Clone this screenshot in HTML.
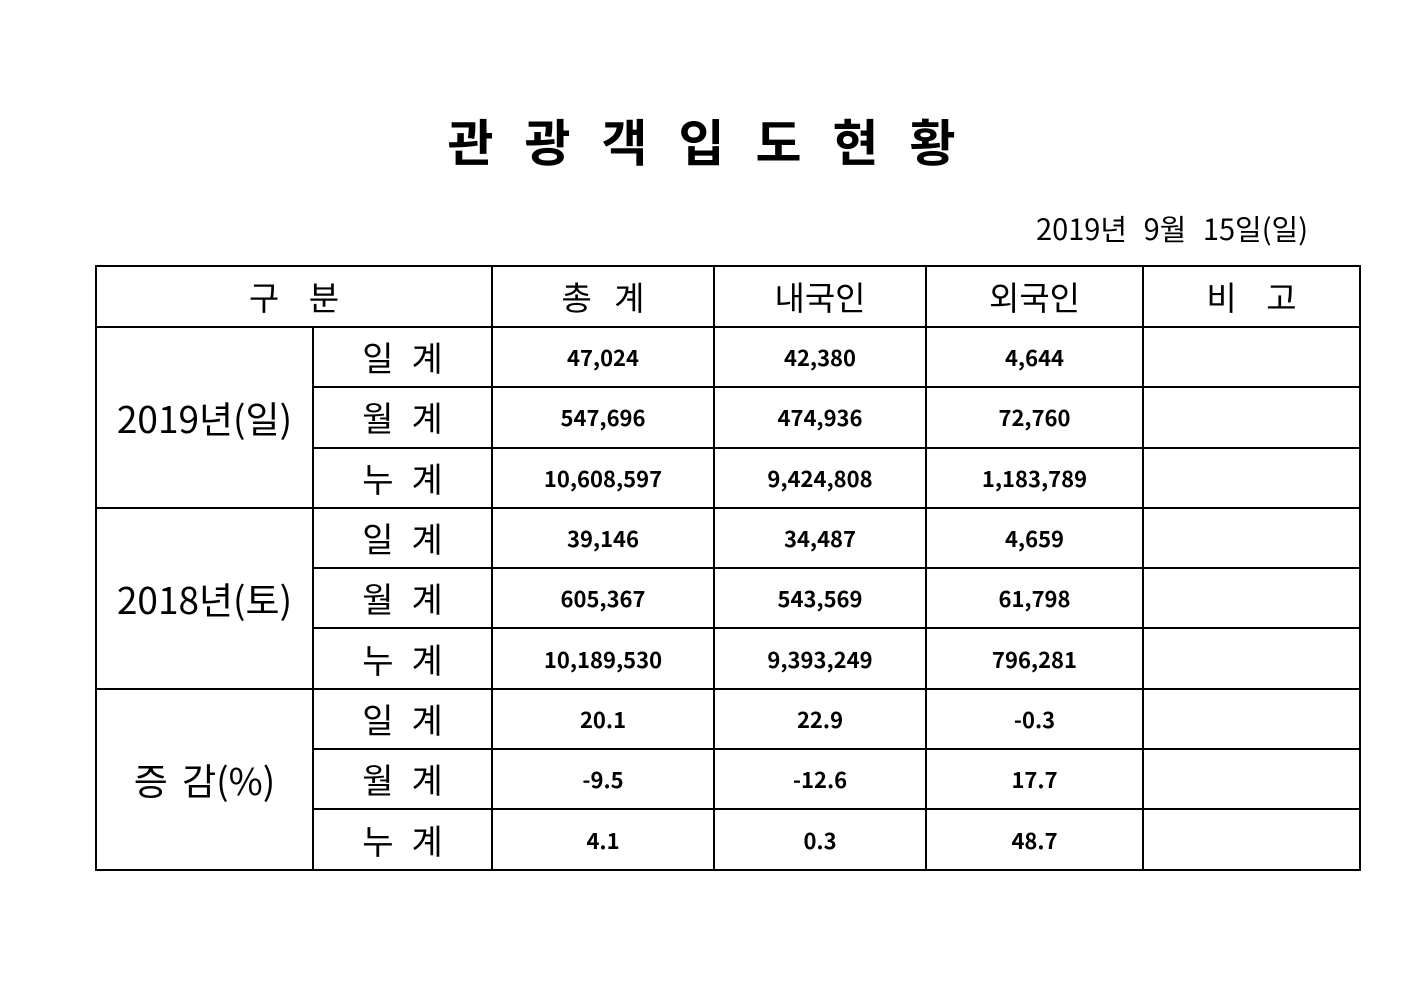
<!DOCTYPE html>
<html><head><meta charset="utf-8"><style>
body{margin:0;width:1403px;height:992px;background:#fff;position:relative;font-family:"Noto Sans CJK KR","NanumGothic",sans-serif;color:#000;overflow:hidden}
.title{position:absolute;top:104px;left:0;width:1403px;text-align:center;font-size:50px;font-weight:bold;letter-spacing:31px;text-indent:31px;font-family:"Liberation Sans","Noto Sans CJK KR",sans-serif}
.date{position:absolute;top:207px;right:95px;font-size:29px;word-spacing:10px}
table{position:absolute;left:95px;top:265px;border-collapse:collapse}
td{border:2px solid #000;text-align:center;padding:0;height:58.3px;line-height:1}
.h{font-size:33px}
.g{font-size:37px;letter-spacing:0}
.g2{word-spacing:6px}
.l{font-size:34px;letter-spacing:18px;text-indent:18px}
.n{font-size:22px;font-weight:bold}
</style></head><body>
<div class="title">관광객입도현황</div>
<div class="date">2019년 9월 15일(일)</div>
<table>
<colgroup><col style="width:217px"><col style="width:179px"><col style="width:222px"><col style="width:212px"><col style="width:217px"><col style="width:217px"></colgroup>
<tr style="height:61px"><td class="h" colspan="2">구 &nbsp;&nbsp; 분</td><td class="h">총 &nbsp;&nbsp;계</td><td class="h">내국인</td><td class="h">외국인</td><td class="h">비 &nbsp;&nbsp; 고</td></tr>
<tr><td class="g" rowspan="3">2019년(일)</td><td class="l">일계</td><td class="n">47,024</td><td class="n">42,380</td><td class="n">4,644</td><td></td></tr>
<tr><td class="l">월계</td><td class="n">547,696</td><td class="n">474,936</td><td class="n">72,760</td><td></td></tr>
<tr><td class="l">누계</td><td class="n">10,608,597</td><td class="n">9,424,808</td><td class="n">1,183,789</td><td></td></tr>
<tr><td class="g" rowspan="3">2018년(토)</td><td class="l">일계</td><td class="n">39,146</td><td class="n">34,487</td><td class="n">4,659</td><td></td></tr>
<tr><td class="l">월계</td><td class="n">605,367</td><td class="n">543,569</td><td class="n">61,798</td><td></td></tr>
<tr><td class="l">누계</td><td class="n">10,189,530</td><td class="n">9,393,249</td><td class="n">796,281</td><td></td></tr>
<tr><td class="g g2" rowspan="3">증 감(%)</td><td class="l">일계</td><td class="n">20.1</td><td class="n">22.9</td><td class="n">-0.3</td><td></td></tr>
<tr><td class="l">월계</td><td class="n">-9.5</td><td class="n">-12.6</td><td class="n">17.7</td><td></td></tr>
<tr><td class="l">누계</td><td class="n">4.1</td><td class="n">0.3</td><td class="n">48.7</td><td></td></tr>
</table>
</body></html>
